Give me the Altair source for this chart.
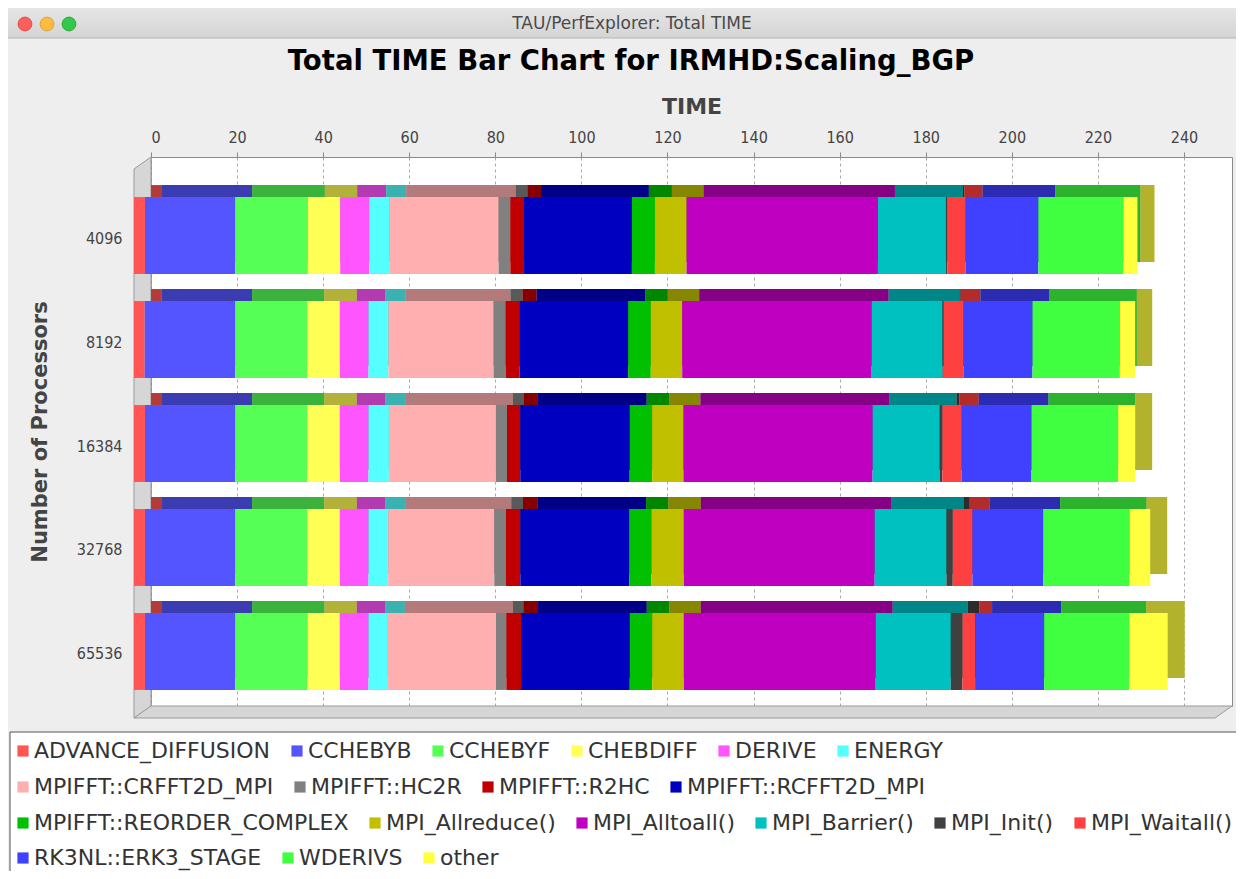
import altair as alt
import pandas as pd

# ---------------- data ----------------
procs = ["4096", "8192", "16384", "32768", "65536"]
series = [
    "ADVANCE_DIFFUSION", "CCHEBYB", "CCHEBYF", "CHEBDIFF", "DERIVE", "ENERGY",
    "MPIFFT::CRFFT2D_MPI", "MPIFFT::HC2R", "MPIFFT::R2HC", "MPIFFT::RCFFT2D_MPI",
    "MPIFFT::REORDER_COMPLEX", "MPI_Allreduce()", "MPI_Alltoall()", "MPI_Barrier()",
    "MPI_Init()", "MPI_Waitall()",
    "RK3NL::ERK3_STAGE", "WDERIVS", "other",
]
colors = [
    "#FF5555", "#5555FF", "#55FF55", "#FFFF55", "#FF55FF", "#55FFFF",
    "#FFAFAF", "#808080", "#C00000", "#0000C0",
    "#00C000", "#C0C000", "#C000C0", "#00C0C0", "#404040", "#FF4040",
    "#4040FF", "#40FF40", "#FFFF40",
]
time_4096 = [2.56, 20.93, 16.91, 7.51, 6.74, 4.65, 25.42, 2.72, 3.19, 25.05,
             5.35, 7.35, 44.47, 15.80, 0.30, 4.26, 16.91, 19.77, 3.26]
time_8192 = [2.49, 21.00, 16.74, 7.60, 6.65, 4.65, 24.42, 2.79, 3.26, 25.21,
             5.26, 7.30, 44.02, 16.44, 0.30, 4.58, 16.05, 20.30, 3.56]
time_16384 = [2.56, 20.93, 16.74, 7.60, 6.65, 4.74, 24.88, 2.56, 3.09, 25.42,
              5.21, 7.28, 43.95, 15.58, 0.63, 4.49, 16.21, 20.14, 3.95]
time_32768 = [2.56, 20.93, 16.74, 7.60, 6.65, 4.58, 24.65, 2.72, 3.33, 25.28,
              5.19, 7.51, 44.35, 16.67, 1.47, 4.58, 16.42, 20.09, 4.79]
time_65536 = [2.56, 20.93, 16.81, 7.53, 6.65, 4.51, 25.12, 2.40, 3.42, 25.26,
              5.21, 7.35, 44.58, 17.44, 2.72, 2.93, 16.05, 19.77, 8.93]
x_ticks = [0, 20, 40, 60, 80, 100, 120, 140, 160, 180, 200, 220, 240]
legend_rows = [series[0:6], series[6:10], series[10:16], series[16:19]]

window_title = "TAU/PerfExplorer: Total TIME"
chart_title = "Total TIME Bar Chart for IRMHD:Scaling_BGP"

by_proc = dict(zip(procs, [time_4096, time_8192, time_16384, time_32768, time_65536]))
rows = []
for p in procs:
    for i, s in enumerate(series):
        rows.append({"procs": p, "series": s, "order": i, "value": by_proc[p][i]})
df = pd.DataFrame(rows)

# ---------------- layout ----------------
W, H = 1081, 549          # back wall (plot area)
DX, DY = 17, 12           # 3D depth offset
PX = 4.304                # pixels per unit
XMAX = W / PX
LFONT = "DejaVu Sans Condensed, Liberation Sans Narrow, DejaVu Sans, sans-serif"
TFONT = "DejaVu Sans"

one = pd.DataFrame({"k": [0]})

# window chrome
title_bar = alt.Chart(one).mark_rect(
    color={"gradient": "linear", "x1": 0, "y1": 0, "x2": 0, "y2": 1,
           "stops": [{"offset": 0, "color": "#ECECEC"}, {"offset": 1, "color": "#D4D4D4"}]},
    stroke="#B5B5B5", strokeWidth=1,
).encode(x=alt.value(-160), x2=alt.value(W + 20), y=alt.value(-160), y2=alt.value(-119))

lights = [
    alt.Chart(one).mark_point(filled=True, shape="circle", size=190, color=c,
                              stroke=sc, strokeWidth=1, opacity=1)
    .encode(x=alt.value(xv), y=alt.value(-133))
    for xv, c, sc in [(-126, "#FC605C", "#DE4A46"), (-104, "#FDBC40", "#DEA236"),
                      (-82, "#34C84A", "#27AA35")]
]

win_text = alt.Chart(one).mark_text(
    text=window_title, font=TFONT, fontSize=17, color="#4A4A4A",
    align="center", baseline="middle",
).encode(x=alt.value(481), y=alt.value(-133))

main_title = alt.Chart(one).mark_text(
    text=chart_title, font=TFONT, fontSize=27.5, fontWeight="bold", color="#000000",
    align="center", baseline="middle",
).encode(x=alt.value(480), y=alt.value(-95))

# 3D walls (parallelograms as custom symbol paths)
def para(pts):
    xs = [p[0] for p in pts]
    ys = [p[1] for p in pts]
    cx, cy = (min(xs) + max(xs)) / 2, (min(ys) + max(ys)) / 2
    s = max(max(xs) - min(xs), max(ys) - min(ys)) / 2
    path = "M" + "L".join(f"{(x - cx) / s:.5f},{(y - cy) / s:.5f}" for x, y in pts) + "Z"
    return path, cx, cy, (2 * s) ** 2

walls = []
for pts in ([(0, 0), (0, H), (-DX, H + DY), (-DX, DY)],
            [(0, H), (W, H), (W - DX, H + DY), (-DX, H + DY)]):
    path, cx, cy, size = para(pts)
    walls.append(
        alt.Chart(one).mark_point(shape=path, size=size, filled=True, color="#D6D6D6",
                                  stroke="#9A9A9A", strokeWidth=1, opacity=1)
        .encode(x=alt.value(cx), y=alt.value(cy))
    )

legend_box = alt.Chart(one).mark_rect(
    color="#FFFFFF", stroke="#555555", strokeWidth=1
).encode(x=alt.value(-141), x2=alt.value(W + 30), y=alt.value(575), y2=alt.value(760))

# ---------------- bars ----------------
base = alt.Chart(df).transform_stack(
    stack="value", groupby=["procs"],
    sort=[alt.SortField("order", order="ascending")], as_=["x0", "x1"],
)

x_enc = alt.X(
    "x0:Q",
    scale=alt.Scale(domain=[0, XMAX], nice=False, zero=False),
    axis=alt.Axis(
        orient="top", title="TIME", values=x_ticks,
        titleFont=TFONT, titleFontSize=22, titleFontWeight="bold", titleColor="#444444",
        titlePadding=11,
        labelFont=LFONT, labelFontSize=16, labelColor="#444444", labelPadding=7,
        tickSize=5, tickColor="#888888", domain=False,
        grid=True, gridDash=[3, 3], gridColor="#AAAAAA", gridWidth=1,
    ),
)
x2_enc = alt.X2("x1:Q")
y_enc = alt.Y(
    "procs:N", sort=procs,
    scale=alt.Scale(paddingInner=0.26, paddingOuter=0.27),
    axis=alt.Axis(
        title="Number of Processors",
        titleFont=TFONT, titleFontSize=21, titleFontWeight="bold", titleColor="#444444",
        titlePadding=26,
        labelFont=LFONT, labelFontSize=16, labelColor="#444444",
        labelPadding=29, labelOffset=15, ticks=False, domain=False, grid=False,
    ),
)

back = base.mark_bar().encode(
    x=x_enc, x2=x2_enc, y=y_enc,
    color=alt.Color("series:N", scale=alt.Scale(domain=series, range=colors), legend=None),
)
shade = base.mark_bar(color="#000000", opacity=0.3).encode(x=x_enc, x2=x2_enc, y=y_enc)

legend_y = [583, 619, 655, 690]
fronts = []
for row, ly in zip(legend_rows, legend_y):
    row_colors = [colors[series.index(s)] for s in row]
    fronts.append(
        base.transform_filter(alt.FieldOneOfPredicate(field="series", oneOf=row))
        .mark_bar(xOffset=-DX, x2Offset=-DX, yOffset=DY, y2Offset=DY)
        .encode(
            x=x_enc, x2=x2_enc, y=y_enc,
            color=alt.Color(
                "series:N",
                scale=alt.Scale(domain=row, range=row_colors),
                legend=alt.Legend(
                    orient="none", legendX=-139, legendY=ly, direction="horizontal",
                    title=None, symbolType="square", symbolSize=125, symbolStrokeWidth=0,
                    labelFont=TFONT, labelFontSize=22, labelColor="#333333",
                    labelLimit=600, labelOffset=0, columnPadding=15, padding=0, zindex=1,
                ),
            ),
        )
    )

chart = (
    alt.layer(title_bar, *lights, win_text, main_title, *walls, legend_box,
              back, shade, *fronts)
    .resolve_scale(color="independent")
    .properties(
        width=W, height=H,
        padding={"left": 143, "top": 149, "right": 4, "bottom": 165},
        autosize=alt.AutoSizeParams(type="none"),
        background="#EEEEEE",
    )
    .configure_view(fill="#FFFFFF", stroke="#8A8A8A", strokeWidth=1)
)

chart.save("out.html", embed_options={"renderer": "svg", "actions": False})
